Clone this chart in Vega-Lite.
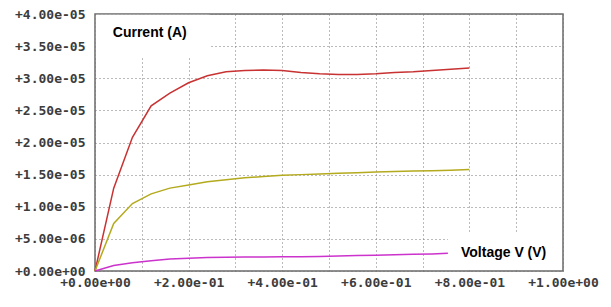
{
  "$schema": "https://vega.github.io/schema/vega-lite/v6.json",
  "width": 468,
  "height": 257,
  "autosize": {"type": "none"},
  "padding": {"left": 95, "top": 14, "right": 48, "bottom": 36},
  "background": "white",
  "config": {
    "view": {"stroke": "#6a6a6a", "strokeWidth": 1.5},
    "axis": {
      "domain": false,
      "ticks": false,
      "grid": true,
      "gridColor": "#777777",
      "gridDash": [1, 3],
      "gridWidth": 1,
      "labelFont": "DejaVu Sans Mono",
      "labelFontWeight": "bold",
      "labelFontSize": 13,
      "labelColor": "#3c3c3c",
      "labelFlush": false,
      "labelOverlap": false,
      "labelBound": false,
      "title": null
    }
  },
  "datasets": {
    "boxes": [
      {"x": 0.002, "xe": 0.244, "y": 3.32e-5, "ye": 3.99e-5},
      {"x": 0.754, "xe": 0.997, "y": 1.6e-7, "ye": 6.0e-6}
    ],
    "series": [
      {"series": "Current (A)", "x": 0, "y": 0},
      {"series": "Current (A)", "x": 0.04, "y": 1.29e-5},
      {"series": "Current (A)", "x": 0.08, "y": 2.08e-5},
      {"series": "Current (A)", "x": 0.12, "y": 2.57e-5},
      {"series": "Current (A)", "x": 0.16, "y": 2.77e-5},
      {"series": "Current (A)", "x": 0.2, "y": 2.93e-5},
      {"series": "Current (A)", "x": 0.24, "y": 3.04e-5},
      {"series": "Current (A)", "x": 0.28, "y": 3.1e-5},
      {"series": "Current (A)", "x": 0.32, "y": 3.12e-5},
      {"series": "Current (A)", "x": 0.36, "y": 3.13e-5},
      {"series": "Current (A)", "x": 0.4, "y": 3.12e-5},
      {"series": "Current (A)", "x": 0.44, "y": 3.09e-5},
      {"series": "Current (A)", "x": 0.48, "y": 3.07e-5},
      {"series": "Current (A)", "x": 0.52, "y": 3.06e-5},
      {"series": "Current (A)", "x": 0.56, "y": 3.06e-5},
      {"series": "Current (A)", "x": 0.6, "y": 3.07e-5},
      {"series": "Current (A)", "x": 0.64, "y": 3.09e-5},
      {"series": "Current (A)", "x": 0.68, "y": 3.1e-5},
      {"series": "Current (A)", "x": 0.72, "y": 3.12e-5},
      {"series": "Current (A)", "x": 0.76, "y": 3.14e-5},
      {"series": "Current (A)", "x": 0.8, "y": 3.16e-5},
      {"series": "Trace 2", "x": 0, "y": 0},
      {"series": "Trace 2", "x": 0.04, "y": 7.4e-6},
      {"series": "Trace 2", "x": 0.08, "y": 1.05e-5},
      {"series": "Trace 2", "x": 0.12, "y": 1.2e-5},
      {"series": "Trace 2", "x": 0.16, "y": 1.29e-5},
      {"series": "Trace 2", "x": 0.2, "y": 1.34e-5},
      {"series": "Trace 2", "x": 0.24, "y": 1.39e-5},
      {"series": "Trace 2", "x": 0.28, "y": 1.42e-5},
      {"series": "Trace 2", "x": 0.32, "y": 1.45e-5},
      {"series": "Trace 2", "x": 0.36, "y": 1.47e-5},
      {"series": "Trace 2", "x": 0.4, "y": 1.49e-5},
      {"series": "Trace 2", "x": 0.44, "y": 1.5e-5},
      {"series": "Trace 2", "x": 0.48, "y": 1.51e-5},
      {"series": "Trace 2", "x": 0.52, "y": 1.52e-5},
      {"series": "Trace 2", "x": 0.56, "y": 1.53e-5},
      {"series": "Trace 2", "x": 0.6, "y": 1.54e-5},
      {"series": "Trace 2", "x": 0.64, "y": 1.55e-5},
      {"series": "Trace 2", "x": 0.68, "y": 1.555e-5},
      {"series": "Trace 2", "x": 0.72, "y": 1.56e-5},
      {"series": "Trace 2", "x": 0.76, "y": 1.57e-5},
      {"series": "Trace 2", "x": 0.8, "y": 1.58e-5},
      {"series": "Voltage V (V)", "x": 0, "y": 0},
      {"series": "Voltage V (V)", "x": 0.04, "y": 8.5e-7},
      {"series": "Voltage V (V)", "x": 0.08, "y": 1.27e-6},
      {"series": "Voltage V (V)", "x": 0.12, "y": 1.6e-6},
      {"series": "Voltage V (V)", "x": 0.16, "y": 1.85e-6},
      {"series": "Voltage V (V)", "x": 0.2, "y": 2.0e-6},
      {"series": "Voltage V (V)", "x": 0.24, "y": 2.1e-6},
      {"series": "Voltage V (V)", "x": 0.28, "y": 2.15e-6},
      {"series": "Voltage V (V)", "x": 0.32, "y": 2.17e-6},
      {"series": "Voltage V (V)", "x": 0.36, "y": 2.18e-6},
      {"series": "Voltage V (V)", "x": 0.4, "y": 2.2e-6},
      {"series": "Voltage V (V)", "x": 0.44, "y": 2.22e-6},
      {"series": "Voltage V (V)", "x": 0.48, "y": 2.27e-6},
      {"series": "Voltage V (V)", "x": 0.52, "y": 2.33e-6},
      {"series": "Voltage V (V)", "x": 0.56, "y": 2.4e-6},
      {"series": "Voltage V (V)", "x": 0.6, "y": 2.45e-6},
      {"series": "Voltage V (V)", "x": 0.64, "y": 2.52e-6},
      {"series": "Voltage V (V)", "x": 0.68, "y": 2.6e-6},
      {"series": "Voltage V (V)", "x": 0.72, "y": 2.66e-6},
      {"series": "Voltage V (V)", "x": 0.754, "y": 2.75e-6}
    ],
    "labels": [
      {"label": "Current (A)", "x": 0.038, "y": 3.7e-5},
      {"label": "Voltage V (V)", "x": 0.782, "y": 2.87e-6}
    ]
  },
  "encoding": {
    "x": {
      "field": "x",
      "type": "quantitative",
      "scale": {"domain": [0, 1], "nice": false, "zero": false},
      "axis": {
        "values": [0, 0.1, 0.2, 0.3, 0.4, 0.5, 0.6, 0.7, 0.8, 0.9, 1.0],
        "labelPadding": 5,
        "labelExpr": "round(datum.value * 10) % 2 == 0 ? slice(format(datum.value, '+.2e'), 0, -1) + '0' + slice(format(datum.value, '+.2e'), -1) : ''"
      }
    },
    "y": {
      "field": "y",
      "type": "quantitative",
      "scale": {"domain": [0, 4e-5], "nice": false, "zero": false},
      "axis": {
        "values": [0, 5e-6, 1e-5, 1.5e-5, 2e-5, 2.5e-5, 3e-5, 3.5e-5, 4e-5],
        "labelPadding": 10,
        "labelExpr": "slice(format(datum.value, '+.2e'), 0, -1) + '0' + slice(format(datum.value, '+.2e'), -1)"
      }
    }
  },
  "layer": [
    {
      "data": {"name": "boxes"},
      "mark": {"type": "rect", "fill": "white"},
      "encoding": {
        "x2": {"field": "xe"},
        "y2": {"field": "ye"}
      }
    },
    {
      "data": {"name": "series"},
      "mark": {"type": "line", "strokeWidth": 1.5},
      "encoding": {
        "color": {
          "field": "series",
          "type": "nominal",
          "scale": {"domain": ["Current (A)", "Trace 2", "Voltage V (V)"], "range": ["#c83232", "#b4aa1e", "#cc33cc"]},
          "legend": null
        }
      }
    },
    {
      "data": {"name": "labels"},
      "mark": {"type": "text", "align": "left", "baseline": "middle", "font": "Liberation Sans", "fontWeight": "bold", "fontSize": 14, "color": "black"},
      "encoding": {
        "text": {"field": "label"}
      }
    }
  ]
}
